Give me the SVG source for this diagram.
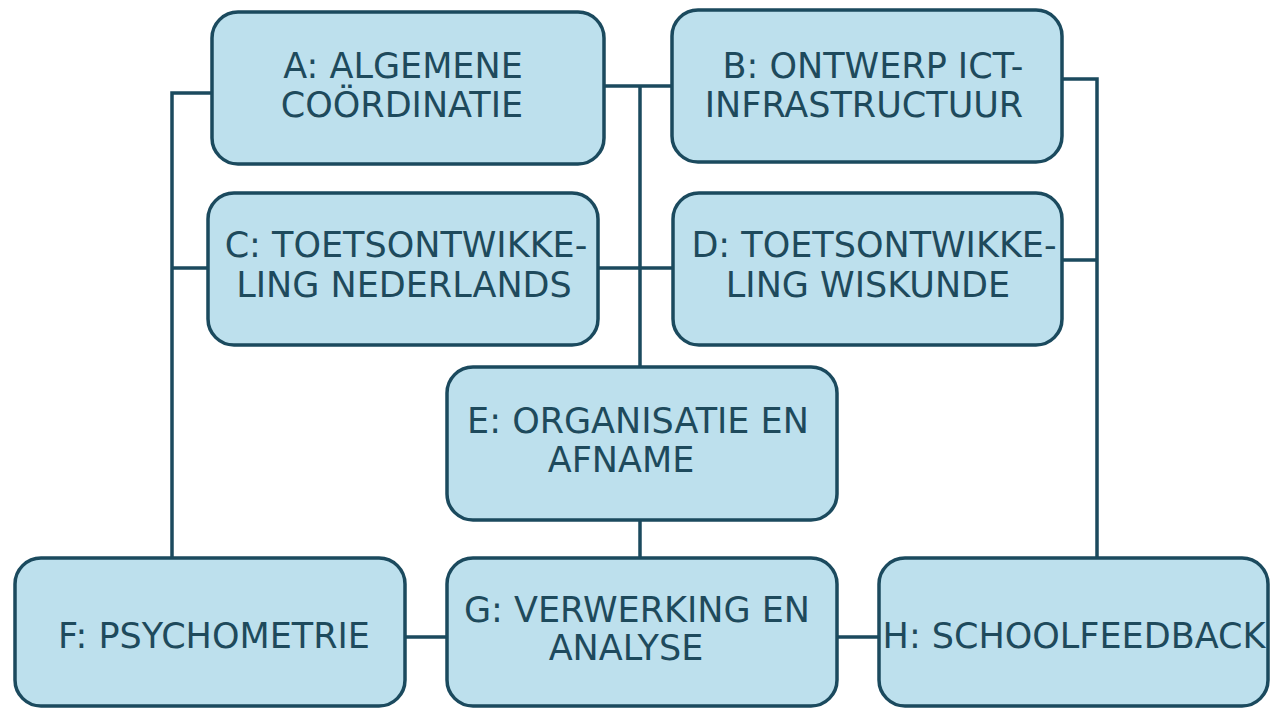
<svg xmlns="http://www.w3.org/2000/svg" width="1285" height="709" viewBox="0 0 1285 709">
<style>
.box{fill:#bde0ed;stroke:#1b4a5e;stroke-width:3.5}
.lbl{font-family:"DejaVu Sans",sans-serif;font-size:35px;fill:#1e4a5c;text-anchor:middle}
.con{fill:none;stroke:#1b4a5e;stroke-width:3.5}
</style>
<rect width="1285" height="709" fill="#ffffff"/>
<g id="connectors" class="con">
<path d="M212,93 H172 V558 M172,268 H208"/>
<path d="M604,86 H672 M640,86 V367 M598,268 H673"/>
<path d="M640,520 V558"/>
<path d="M1062,79 H1097 V558 M1062,260 H1097"/>
<path d="M405,637 H447 M837,637 H879"/>
</g>
<g id="A"><rect class="box" x="212" y="12" width="392" height="152" rx="26"/>
<text class="lbl" x="403" y="78">A: ALGEMENE</text><text class="lbl" x="402" y="117">COÖRDINATIE</text></g>
<g id="B"><rect class="box" x="672" y="10" width="390" height="152" rx="26"/>
<text class="lbl" x="873" y="78">B: ONTWERP ICT-</text><text class="lbl" x="864" y="117">INFRASTRUCTUUR</text></g>
<g id="C"><rect class="box" x="208" y="193" width="390" height="152" rx="26"/>
<text class="lbl" x="406" y="257">C: TOETSONTWIKKE-</text><text class="lbl" x="404" y="297">LING NEDERLANDS</text></g>
<g id="D"><rect class="box" x="673" y="193" width="389" height="152" rx="26"/>
<text class="lbl" x="874" y="257">D: TOETSONTWIKKE-</text><text class="lbl" x="868" y="297">LING WISKUNDE</text></g>
<g id="E"><rect class="box" x="447" y="367" width="390" height="153" rx="26"/>
<text class="lbl" x="638" y="433">E: ORGANISATIE EN</text><text class="lbl" x="621" y="472">AFNAME</text></g>
<g id="F"><rect class="box" x="15" y="558" width="390" height="148" rx="26"/>
<text class="lbl" x="214" y="648">F: PSYCHOMETRIE</text></g>
<g id="G"><rect class="box" x="447" y="558" width="390" height="148" rx="26"/>
<text class="lbl" x="637" y="622">G: VERWERKING EN</text><text class="lbl" x="626" y="660">ANALYSE</text></g>
<g id="H"><rect class="box" x="879" y="558" width="389" height="148" rx="26"/>
<text class="lbl" x="1074" y="648">H: SCHOOLFEEDBACK</text></g>
</svg>
